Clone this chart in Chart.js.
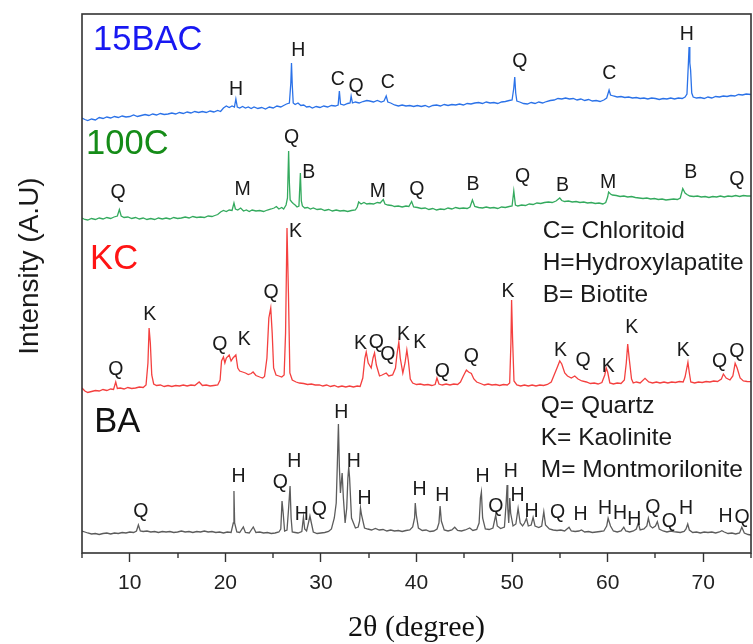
<!DOCTYPE html>
<html>
<head>
<meta charset="utf-8">
<script src="https://cdn.jsdelivr.net/npm/chart.js@4.4.1/dist/chart.umd.min.js"></script>
<style>
  html, body { margin: 0; padding: 0; background: #fff; }
  #wrap { width: 753px; height: 644px; }
</style>
</head>
<body>
<div id="wrap"><canvas id="xrd"></canvas></div>
<script>
// =====================
// DIFFRACTOGRAMS (2θ in degree, intensity in A.U. above each trace's own zero)
// =====================

const patternBA = [
  [5.0,22],[5.3,21],[5.6,20],[6.0,19],[6.4,19.5],[6.8,18.5],[7.2,19.5],[7.6,20],[8.0,19],[8.4,20],[8.8,19.5],[9.2,20.5],
  [9.6,20],[10.0,21],[10.4,20.5],[10.7,22],[10.9,28],[11.1,22],[11.4,21.5],[11.8,22],[12.2,21],[12.6,21.5],[13.0,20.5],
  [13.4,21.5],[13.8,21],[14.2,21.5],[14.6,20.5],[15.0,21],[15.4,22],[15.8,21],[16.2,21.5],[16.6,20.5],[17.0,21.5],
  [17.4,21],[17.8,22],[18.2,21],[18.6,21.5],[19.0,20.5],[19.4,21],[19.8,20],[20.2,21],[20.6,20.5],[20.83,30],[20.9,62],
  [20.97,30],[21.2,21],[21.5,20.5],[21.88,26],[22.1,20.5],[22.5,20],[22.92,26],[23.2,20.5],[23.6,21],[24.0,20],[24.4,20.5],
  [24.8,19.5],[25.2,20],[25.6,21],[25.8,24],[25.93,52],[26.05,40],[26.2,22],[26.45,23],[26.62,45],[26.77,67],[26.88,35],
  [27.0,21],[27.3,20.5],[27.6,20],[28.0,21.5],[28.17,36],[28.3,24],[28.5,22],[28.69,30],[28.85,37],[29.0,30],[29.2,21],
  [29.6,19.5],[30.0,20],[30.4,20.5],[30.8,21.5],[31.1,24],[31.4,35],[31.6,50],[31.72,90],[31.83,129],[31.93,86],[32.04,60],
  [32.13,70],[32.22,80],[32.35,55],[32.53,30],[32.7,45],[32.82,75],[32.91,86],[33.0,75],[33.2,35],[33.61,25],[33.9,26],
  [34.05,32],[34.14,45],[34.25,38],[34.56,25],[34.9,24],[35.3,23],[35.7,24.5],[36.1,23],[36.5,23.5],[36.9,22],[37.3,23],
  [37.7,22],[38.1,22.5],[38.5,21.5],[38.9,22.5],[39.3,23],[39.6,26],[39.8,35],[39.87,50],[39.98,38],[40.2,25],[40.6,22.5],
  [41.0,23],[41.4,21.5],[41.8,22],[42.15,24],[42.35,30],[42.47,47],[42.6,32],[42.9,23],[43.3,22],[43.7,23],[44.0,25.7],
  [44.3,22.5],[44.7,22],[45.1,23],[45.57,25],[45.9,22.5],[46.3,23.5],[46.55,30],[46.69,55],[46.79,61],[46.92,35],[47.2,24],
  [47.6,23.5],[48.0,25],[48.29,38],[48.45,27],[48.8,24.5],[49.2,26],[49.38,50],[49.48,68],[49.55,45],[49.65,30],[49.76,55],
  [49.85,40],[50.1,27],[50.4,29],[50.63,44.7],[50.85,30],[51.1,27],[51.3,30],[51.51,34.7],[51.7,27],[52.0,28],[52.2,35.7],
  [52.4,27],[52.8,25.5],[53.1,27],[53.32,41.3],[53.5,28],[53.9,24],[54.3,23],[54.7,22.5],[55.1,23],[55.5,22],[55.96,25.7],
  [56.2,22],[56.6,21.5],[57.0,22],[57.26,23],[57.6,21],[58.0,21.5],[58.4,20.5],[58.8,21],[59.2,21.5],[59.6,22],[59.9,27],
  [60.05,34.7],[60.3,27],[60.6,22],[61.0,21],[61.4,22],[61.69,25.7],[61.9,22],[62.3,21],[62.7,22],[63.0,24],[63.21,29.7],
  [63.4,23],[63.8,24],[64.1,27],[64.26,34.7],[64.45,27],[64.7,25],[65.0,27],[65.2,31.3],[65.4,24],[65.8,22],[66.2,21],
  [66.6,22],[66.88,21.3],[67.2,21],[67.6,20.5],[68.0,21.5],[68.2,24],[68.38,29],[68.55,23],[68.9,20.5],[69.3,21],[69.7,20],
  [70.1,21],[70.5,20.5],[70.9,21],[71.3,20],[71.7,21],[71.95,22.3],[72.2,21],[72.6,19.5],[73.0,20],[73.4,19],[73.8,20],
  [74.04,25.7],[74.3,20],[74.7,18.5],[75.0,18]
];

const patternKC = [
  [5.0,25],[5.3,22],[5.6,20.5],[6.0,21.5],[6.4,22.5],[6.8,22],[7.2,23.5],[7.6,22.5],[8.0,24],[8.3,23.5],[8.53,31],[8.7,24.5],
  [9.0,25],[9.4,24],[9.8,25.5],[10.2,24.5],[10.6,25],[11.0,26],[11.4,25.5],[11.7,28],[11.9,50],[12.02,85],[12.15,70],[12.3,38],
  [12.5,29],[12.8,27.5],[13.2,28],[13.6,26.5],[14.0,27.5],[14.4,26.5],[14.8,27.5],[15.2,27],[15.6,28],[16.0,27],[16.4,28],
  [16.8,27.5],[17.26,31],[17.6,27.5],[18.0,28],[18.4,27],[18.8,27.5],[19.2,28],[19.45,33],[19.6,52],[19.8,56],[19.95,50],
  [20.1,55],[20.4,58],[20.6,52],[20.8,55],[21.1,58],[21.3,45],[21.5,42],[21.8,41],[22.1,40],[22.4,38.5],[22.7,39.5],[22.9,41],
  [23.2,37.5],[23.6,36],[23.9,35],[24.1,36.5],[24.35,55],[24.55,95],[24.75,105],[24.9,80],[25.05,45],[25.3,38],[25.6,37],
  [25.9,36],[26.15,38],[26.3,80],[26.45,185],[26.6,120],[26.75,40],[27.0,33],[27.4,31],[27.75,30],[28.2,29.5],[28.6,28.5],
  [29.0,29],[29.4,28],[29.84,28],[30.2,27],[30.6,28],[31.0,26.5],[31.4,27.5],[31.8,26],[32.2,27],[32.6,26],[33.0,27],[33.4,26],
  [33.8,27],[34.1,26.5],[34.38,35],[34.6,55],[34.74,61],[34.95,50],[35.26,45],[35.45,55],[35.61,60],[35.8,48],[36.13,37],
  [36.4,38],[36.83,40],[37.1,37],[37.5,38],[37.8,45],[37.95,58],[38.15,71],[38.3,55],[38.57,40],[38.8,50],[38.99,63],
  [39.15,52],[39.35,34],[39.6,30],[40.0,28.5],[40.4,29],[40.8,28],[41.2,28.5],[41.6,27.5],[41.95,28.5],[42.14,35],[42.35,29],
  [42.7,28],[43.1,29],[43.5,28],[43.9,29],[44.3,28.5],[44.6,31],[44.9,37],[45.22,43],[45.45,41],[45.74,39.5],[46.0,34],
  [46.3,31],[46.7,29.5],[47.1,28],[47.5,29],[47.9,28],[48.3,28.5],[48.7,27.5],[49.1,28.5],[49.5,28],[49.75,30],[49.88,70],
  [49.95,113],[50.05,75],[50.2,32],[50.5,28],[50.9,27],[51.3,28],[51.7,27],[52.1,28],[52.5,27],[52.9,28],[53.3,27.5],
  [53.7,28.5],[54.1,31],[54.4,38],[54.7,45],[54.99,52],[55.2,49],[55.51,40],[55.8,37],[56.2,35],[56.56,37],[56.9,34],
  [57.3,32],[57.78,31],[58.2,29.5],[58.6,30],[59.0,29],[59.4,30.5],[59.7,38],[59.85,45],[60.0,41],[60.23,30],[60.6,29],
  [61.0,30],[61.4,29.5],[61.75,33],[61.95,50],[62.1,69],[62.25,55],[62.5,34],[62.68,30],[63.0,31],[63.4,30],[63.91,34.7],
  [64.3,31],[64.7,30],[65.1,31],[65.48,30],[65.9,31],[66.3,30],[66.7,31],[67.1,30.5],[67.5,31.5],[67.9,31],[68.1,36],
  [68.4,50.7],[68.55,40],[68.7,31],[69.1,30],[69.5,31],[69.9,30.5],[70.3,31.5],[70.7,31],[71.1,32],[71.5,31.5],[71.9,34],
  [72.11,39],[72.4,35],[72.8,33],[73.1,37],[73.34,49.7],[73.55,45],[73.86,35],[74.2,32],[74.6,31.5],[75.0,31.3]
];

const pattern100C = [
  [5.0,25],[5.3,23.5],[5.6,23],[6.0,24.5],[6.4,23.5],[6.8,25],[7.2,24],[7.6,25.5],[8.0,24.5],[8.35,26],[8.7,27],[8.91,33.5],
  [9.1,27],[9.4,25.5],[9.8,26],[10.2,24.5],[10.6,25.5],[11.0,24],[11.4,25],[11.8,23.5],[12.2,24.5],[12.6,23.5],[13.0,25],
  [13.4,24],[13.8,25],[14.2,24],[14.6,25.5],[15.0,24.5],[15.4,25],[15.8,26],[16.2,25],[16.6,26.5],[17.0,25.5],[17.4,26],
  [17.8,25.5],[18.2,27],[18.6,26.5],[18.9,27.5],[19.2,28.5],[19.5,31],[19.8,32.5],[20.1,31.5],[20.4,33],[20.7,32.5],[20.9,40],
  [21.05,34],[21.3,33],[21.6,35],[21.9,32],[22.2,33],[22.5,31.5],[22.8,33],[23.2,32],[23.6,32.5],[24.0,31.5],[24.4,33],
  [24.8,34],[25.1,35],[25.34,36.5],[25.6,34],[25.9,35.5],[26.1,34],[26.35,38],[26.5,45],[26.62,92],[26.7,60],[26.78,43],
  [26.95,41],[27.1,39.5],[27.3,38],[27.5,36],[27.7,37],[27.85,70],[27.95,42],[28.06,37],[28.3,35],[28.6,35.5],[28.9,34],
  [29.2,35],[29.6,33.5],[30.0,34],[30.4,32.5],[30.8,33.5],[31.2,32],[31.6,33],[32.0,32],[32.4,32.5],[32.8,31.5],[33.2,32.5],
  [33.6,33],[33.8,36],[33.95,41],[34.2,39],[34.5,40.5],[34.8,39],[35.1,39.5],[35.5,39],[35.9,40.5],[36.2,40],[36.52,43.5],
  [36.7,39],[37.0,38],[37.4,37.5],[37.7,36.5],[38.1,37],[38.5,36],[38.9,37],[39.2,36.5],[39.49,41.5],[39.7,36],[40.1,35.5],
  [40.5,34.5],[40.9,35],[41.3,33.5],[41.7,34.5],[42.1,33],[42.5,34],[42.9,33.5],[43.3,35],[43.7,34],[44.1,35.5],[44.5,34.5],
  [44.9,35],[45.3,34.5],[45.6,36],[45.85,43],[46.1,36.5],[46.5,35.5],[46.9,35],[47.3,36],[47.7,35],[48.1,35.5],[48.5,34.5],
  [48.9,36],[49.3,35.5],[49.7,36.5],[50.0,37],[50.18,52],[50.35,38],[50.6,37],[51.0,38],[51.4,37.5],[51.8,39],[52.2,38.5],
  [52.6,40],[53.0,39.5],[53.4,40.5],[53.8,41],[54.2,40.5],[54.6,42],[54.99,45],[55.2,42.5],[55.5,41.5],[55.9,42],[56.3,41],
  [56.7,41.5],[57.1,40.5],[57.5,41],[57.9,40],[58.3,40.5],[58.7,39.5],[59.1,40],[59.5,39],[59.8,40.5],[60.0,46],[60.1,51],
  [60.3,49],[60.5,48],[60.9,47.5],[61.3,46.5],[61.7,47],[62.1,46],[62.5,46.5],[62.9,45.5],[63.3,45],[63.7,44.5],[64.1,45],
  [64.5,44],[64.9,44.5],[65.3,43.5],[65.7,44],[66.1,43],[66.5,43.5],[66.9,44],[67.3,43.5],[67.6,45],[67.86,54.5],[68.1,50],
  [68.3,48.5],[68.6,47],[69.0,46.5],[69.4,47],[69.8,46],[70.2,46.5],[70.6,45.5],[71.0,46.5],[71.4,46],[71.8,47],[72.2,46],
  [72.6,47],[73.0,46.5],[73.4,47.5],[73.8,46.5],[74.2,47.5],[74.6,47],[75.0,47]
];

const pattern15BAC = [
  [5.0,15],[5.3,13.5],[5.6,12.5],[6.0,14],[6.4,13],[6.8,15.5],[7.2,14.5],[7.6,16],[8.0,15],[8.4,16.5],[8.8,15.5],[9.2,17],
  [9.6,16],[10.0,16.5],[10.4,18],[10.8,16.5],[11.2,17.5],[11.6,18.5],[12.0,17.5],[12.4,19],[12.8,18],[13.2,19.5],[13.6,18.5],
  [14.0,19],[14.4,20],[14.8,19],[15.2,20.5],[15.6,19.5],[16.0,21],[16.4,20],[16.8,21.5],[17.2,20.5],[17.6,21.5],[18.0,20.5],
  [18.4,22],[18.8,21],[19.2,22.5],[19.5,21.5],[19.8,25],[20.1,27],[20.4,25.5],[20.7,27],[20.95,26],[21.1,34],[21.25,26],
  [21.5,25],[21.8,26.5],[22.1,25],[22.4,26],[22.7,24.5],[23.0,26],[23.4,24.5],[23.8,25.5],[24.2,24],[24.6,26],[25.0,25],
  [25.4,27],[25.8,26],[26.1,27.5],[26.4,29],[26.7,30],[26.85,50],[26.92,70],[27.0,48],[27.1,30],[27.3,28.5],[27.6,30],
  [27.9,27.5],[28.2,28],[28.5,26],[28.8,26.5],[29.1,25],[29.5,26.5],[29.9,25.5],[30.3,27],[30.7,26],[31.1,27.5],[31.5,27],
  [31.8,28],[31.93,42],[32.05,29],[32.4,28],[32.8,29.5],[33.05,30],[33.16,37],[33.3,30],[33.6,31],[34.0,30],[34.4,31.5],
  [34.8,32.5],[35.1,32],[35.5,31],[35.9,32.5],[36.3,31],[36.6,32],[36.83,37],[37.0,31],[37.3,30],[37.7,28],[38.1,27],
  [38.5,28],[38.9,27],[39.3,27.5],[39.7,26.5],[40.1,27.5],[40.5,26.5],[40.9,27.5],[41.3,26],[41.7,27.5],[42.1,28],[42.5,27],
  [42.9,28.5],[43.3,27.5],[43.7,28.5],[44.1,28],[44.5,29],[44.9,28],[45.3,29.5],[45.7,29],[46.1,30],[46.5,30.5],[46.9,29.5],
  [47.3,31],[47.7,30],[48.1,30.5],[48.5,29.5],[48.9,31],[49.3,31.5],[49.7,32.5],[50.0,33],[50.18,45],[50.28,56],[50.38,40],
  [50.5,32],[50.8,31],[51.2,29.5],[51.6,29],[52.0,30.5],[52.4,29.5],[52.8,31],[53.2,30],[53.6,31.5],[54.0,32.5],[54.4,33],
  [54.8,34.5],[55.2,34],[55.6,35],[56.0,34],[56.4,34.5],[56.8,33],[57.2,34],[57.6,32.5],[58.0,33.5],[58.4,32],[58.8,32.5],
  [59.2,31.5],[59.6,33],[59.9,35],[60.15,43],[60.3,38],[60.6,37],[61.0,36],[61.4,36.5],[61.8,35.5],[62.2,36],[62.6,35],
  [63.0,35.5],[63.4,34.5],[63.8,35],[64.2,34],[64.6,35],[65.0,34.5],[65.4,33.5],[65.8,34.5],[66.2,34],[66.6,35],[67.0,34],
  [67.4,35],[67.8,34.5],[68.1,36],[68.3,39],[68.45,70],[68.52,86],[68.6,70],[68.68,63],[68.8,40],[68.95,36],[69.3,35],
  [69.7,35.5],[70.1,34.5],[70.5,36],[70.9,35],[71.3,36.5],[71.7,36],[72.1,37],[72.5,36.5],[72.9,37.5],[73.3,37],[73.7,38.5],
  [74.1,38],[74.5,39],[75.0,38.5]
];

// samples, bottom to top, and how far each pattern is shifted up
const sampleNames = ["BA", "KC", "100C", "15BAC"];
const patterns = [patternBA, patternKC, pattern100C, pattern15BAC];
const stackOffsets = [0, 140, 310, 420];

// phase letters over the reflections: [2θ, height above the trace zero, phase]
const tagsBA = [
  [11.15,41,"Q"],[21.38,76,"H"],[25.75,70,"Q"],[27.22,91,"H"],[27.99,38,"H"],[29.84,43,"Q"],[32.12,140,"H"],
  [33.44,91,"H"],[34.56,54,"H"],[40.33,63,"H"],[42.71,57,"H"],[46.9,76,"H"],[48.29,46,"Q"],[49.86,81,"H"],
  [50.56,57,"H"],[52.03,41,"H"],[54.76,40,"Q"],[57.17,38,"H"],[59.72,44,"H"],[61.29,39,"H"],[62.79,33,"H"],
  [64.72,45,"Q"],[66.46,31,"Q"],[68.21,44,"H"],[72.33,36,"H"],[74.08,35,"Q"]
];
const tagsKC = [
  [8.53,43,"Q"],[12.1,98,"K"],[19.43,68,"Q"],[21.98,73,"K"],[24.78,120,"Q"],[27.33,181,"K"],[34.14,69,"K"],
  [35.79,70,"Q"],[37.0,58,"Q"],[38.65,78,"K"],[40.33,70,"K"],[42.7,41,"Q"],[45.74,56,"Q"],[49.58,121,"K"],
  [55.07,62,"K"],[57.44,52,"Q"],[60.06,46,"K"],[62.51,85,"K"],[67.92,62,"K"],[71.7,51,"Q"],[73.52,61,"Q"]
];
const tags100C = [
  [8.77,50,"Q"],[21.8,53,"M"],[26.94,105,"Q"],[28.72,70,"B"],[35.95,51,"M"],[40.04,53,"Q"],[45.91,58,"B"],
  [51.09,66,"Q"],[55.28,57,"B"],[60.06,60,"M"],[68.7,70,"B"],[73.52,63,"Q"]
];
const tags15BAC = [
  [21.11,43,"H"],[27.64,82,"H"],[31.76,53,"C"],[33.69,46,"Q"],[37.0,50,"C"],[50.81,71,"Q"],[60.17,59,"C"],[68.28,98,"H"]
];
const tagSets = [tagsBA, tagsKC, tags100C, tags15BAC];

// sample name anchors: [2θ, intensity on the stacked axis]
const nameAnchors = [[6.27,131], [5.85,294], [5.43,409], [6.16,512.5]];

// phase key
const keyUpper = ["C= Chloritoid", "H=Hydroxylapatite", "B= Biotite"];
const keyLower = ["Q= Quartz", "K= Kaolinite", "M= Montmorilonite"];
const keyAnchors = [[53.2,321.3], [53.0,146.3]];
const keyStep = 31.6;

// x ticks
const thetaMin = 5, thetaMax = 75;

// =====================
// STYLES
// =====================
const lineColors = ["#5c5c5c", "#f4403f", "#34aa5e", "#2b72e8"];
const nameColors = ["#111111", "#ff1414", "#158c18", "#1818f2"];
const sans = '"Liberation Sans", Arial, sans-serif';
const ink = "#1a1a1a";

const datasets = patterns.map((p, i) => ({
  label: sampleNames[i],
  data: p.map(([t, c]) => ({ x: t, y: c + stackOffsets[i] })),
  borderColor: lineColors[i],
  borderWidth: 1.3,
  pointRadius: 0,
  tension: 0
}));

// frame, minor ticks, phase letters and text blocks
const decorations = {
  id: "decorations",
  afterDatasetsDraw(chart) {
    const { ctx, chartArea: a, scales: { x, y } } = chart;
    ctx.save();

    ctx.strokeStyle = "#333";
    ctx.lineWidth = 1.6;
    ctx.strokeRect(a.left, a.top, a.right - a.left, a.bottom - a.top);

    ctx.lineWidth = 1.4;
    for (let v = thetaMin; v <= thetaMax; v += 5) {
      if (v % 10 === 0) continue;
      const px = Math.round(x.getPixelForValue(v));
      ctx.beginPath();
      ctx.moveTo(px, a.bottom);
      ctx.lineTo(px, a.bottom + 5);
      ctx.stroke();
    }

    ctx.fillStyle = ink;
    ctx.textAlign = "center";
    ctx.textBaseline = "middle";
    ctx.font = "19.5px " + sans;
    tagSets.forEach((tags, i) => {
      tags.forEach(([t, h, letter]) => {
        ctx.fillText(letter, x.getPixelForValue(t), y.getPixelForValue(h + stackOffsets[i]));
      });
    });

    ctx.textAlign = "left";
    ctx.font = "34.5px " + sans;
    sampleNames.forEach((name, i) => {
      ctx.fillStyle = nameColors[i];
      ctx.fillText(name, x.getPixelForValue(nameAnchors[i][0]), y.getPixelForValue(nameAnchors[i][1]));
    });

    ctx.fillStyle = ink;
    ctx.font = "24.5px " + sans;
    [keyUpper, keyLower].forEach((lines, k) => {
      lines.forEach((line, j) => {
        ctx.fillText(line, x.getPixelForValue(keyAnchors[k][0]), y.getPixelForValue(keyAnchors[k][1] - j * keyStep));
      });
    });

    // y axis title
    ctx.translate(30, 266);
    ctx.rotate(-Math.PI / 2);
    ctx.textAlign = "center";
    ctx.font = "28px " + sans;
    ctx.fillText("Intensity (A.U)", 0, 0);

    ctx.restore();
  }
};

new Chart(document.getElementById("xrd"), {
  type: "line",
  data: { datasets },
  options: {
    responsive: true,
    maintainAspectRatio: false,
    animation: false,
    devicePixelRatio: 1,
    layout: { padding: { left: 82, top: 14, right: 2, bottom: 0 } },
    plugins: { legend: { display: false }, tooltip: { enabled: false } },
    scales: {
      x: {
        type: "linear",
        min: thetaMin,
        max: thetaMax,
        border: { display: false },
        grid: {
          drawOnChartArea: false,
          drawTicks: true,
          tickLength: 9,
          tickWidth: 1.4,
          tickColor: c => (c.tick && c.tick.value % 10 === 0 ? "#333" : "rgba(0,0,0,0)")
        },
        ticks: {
          stepSize: 5,
          autoSkip: false,
          maxRotation: 0,
          padding: 9,
          color: "#222",
          font: { family: sans, size: 21 },
          callback: v => (v % 10 === 0 ? v : "")
        },
        title: {
          display: true,
          text: "2θ (degree)",
          color: "#111",
          font: { family: '"Liberation Serif", "Times New Roman", serif', size: 30, lineHeight: 1 },
          padding: { top: 0, bottom: 1 }
        },
        afterFit: s => {
          s.height = 91;
          s.paddingLeft = 0;
          s.paddingRight = 0;
        }
      },
      y: {
        display: false,
        min: 0,
        max: 539
      }
    }
  },
  plugins: [decorations]
});
</script>
</body>
</html>
